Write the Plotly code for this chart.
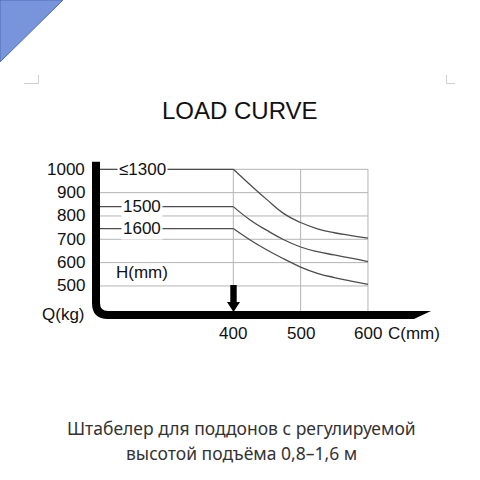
import plotly.graph_objects as go

# load curve
c_mm = [200, 400, 425, 450, 475, 500, 525, 550, 575, 600]
q_1300 = [1000, 1000, 934, 870, 810, 772, 745, 728, 716, 705]
q_1500 = [840, 840, 783, 738, 698, 667, 647, 633, 619, 604]
q_1600 = [746, 746, 697, 654, 616, 581, 554, 536, 521, 507]
heights = ['≤1300', '1500', '1600']
x_ticks = [400, 500, 600]
y_ticks = [500, 600, 700, 800, 900, 1000]

# pixel scale of the drawing (px per mm, px per kg)
KX = 0.6733
KY = 0.2333
X_LO = 400 - 233.3 / KX
X_HI = X_LO + 480 / KX
Y_HI = 1000 + 169.3 / KY
Y_LO = Y_HI - 480 / KY


def px(x):
    return X_LO + x / KX


def py(y):
    return Y_HI - y / KY


FONT = 'Liberation Sans, Arial, sans-serif'
fig = go.Figure()

# grid
gx, gy = [], []
for q in y_ticks:
    gx += [200, 600, None]
    gy += [q, q, None]
for c in x_ticks:
    gx += [c, c, None]
    gy += [1000, py(311.5), None]
fig.add_trace(go.Scatter(x=gx, y=gy, mode='lines', line=dict(color='#b4b4b4', width=1),
                         hoverinfo='skip', showlegend=False))

# curves: flat part up to 400 mm, then the falling part
for name, q in zip(heights, [q_1300, q_1500, q_1600]):
    fig.add_trace(go.Scatter(x=c_mm[:2], y=q[:2], mode='lines', name=name,
                             line=dict(color='#4d4d4d', width=1.3), showlegend=False))
    fig.add_trace(go.Scatter(x=c_mm[1:], y=q[1:], mode='lines', name=name,
                             line=dict(color='#4d4d4d', width=1.3, shape='spline', smoothing=1.3),
                             showlegend=False))
    fig.add_annotation(x=265, y=q[0], text=name, showarrow=False, bgcolor='white',
                       borderpad=1, font=dict(family=FONT, size=17, color='#111'))

fig.add_annotation(x=265, y=py(272), text='H(mm)', showarrow=False,
                   font=dict(family=FONT, size=17, color='#111'))

# tick labels
for q in y_ticks:
    fig.add_annotation(x=px(87), y=q, text=str(q), showarrow=False, xanchor='right',
                       font=dict(family=FONT, size=17, color='#111'))
fig.add_annotation(x=px(87), y=py(314), text='Q(kg)', showarrow=False, xanchor='right',
                   font=dict(family=FONT, size=17, color='#111'))
for c in x_ticks:
    fig.add_annotation(x=c, y=py(333), text=str(c), showarrow=False,
                       font=dict(family=FONT, size=17, color='#111'))
fig.add_annotation(x=px(386), y=py(333), text='C(mm)', showarrow=False, xanchor='left',
                   font=dict(family=FONT, size=17, color='#111'))


def path(pts, close=False):
    s = 'M ' + ' L '.join(f'{px(a)},{py(b)}' for a, b in pts)
    return s + (' Z' if close else '')


# fork shaped axes
fig.add_shape(type='path', line=dict(color='black', width=8),
              path=f'M {px(96)},{py(161.7)} L {px(96)},{py(303)} '
                   f'Q {px(96)},{py(315)} {px(108)},{py(315)} L {px(408)},{py(315)}')
fig.add_shape(type='path', fillcolor='black', line=dict(width=0),
              path=path([(405, 311), (431, 311), (414, 319), (405, 319)], True))
# load arrow
fig.add_shape(type='path', fillcolor='black', line=dict(width=0),
              path=path([(230.3, 285), (236.7, 285), (236.7, 302), (240, 302),
                         (233.5, 312), (227, 302), (230.3, 302)], True))

# page decorations
fig.add_shape(type='path', fillcolor='#7895db', line=dict(color='#4f6db5', width=1),
              path=path([(0, 0), (63, 0), (0, 62)], True))
fig.add_shape(type='path', line=dict(color='#cfcfcf', width=1),
              path=path([(24, 83.5), (38.5, 83.5), (38.5, 75)]))
fig.add_shape(type='path', line=dict(color='#cfcfcf', width=1),
              path=path([(446.5, 75), (446.5, 83.5), (455, 83.5)]))

fig.add_annotation(x=px(240), y=py(110), text='LOAD CURVE', showarrow=False,
                   font=dict(family=FONT, size=24, color='#111'))
fig.add_annotation(x=px(241), y=py(428), text='Штабелер для поддонов с регулируемой',
                   showarrow=False, font=dict(family='Noto Sans', size=17.5, color='#333'))
fig.add_annotation(x=px(241), y=py(453), text='высотой подъёма 0,8–1,6 м',
                   showarrow=False, font=dict(family='Noto Sans', size=17.5, color='#333'))

fig.update_xaxes(range=[X_LO, X_HI], visible=False)
fig.update_yaxes(range=[Y_LO, Y_HI], visible=False)
fig.update_layout(width=480, height=480, margin=dict(l=0, r=0, t=0, b=0),
                  plot_bgcolor='white', paper_bgcolor='white')

fig.write_html('out.html', config={'displayModeBar': False},
               post_script="document.body.style.margin='0px';")
